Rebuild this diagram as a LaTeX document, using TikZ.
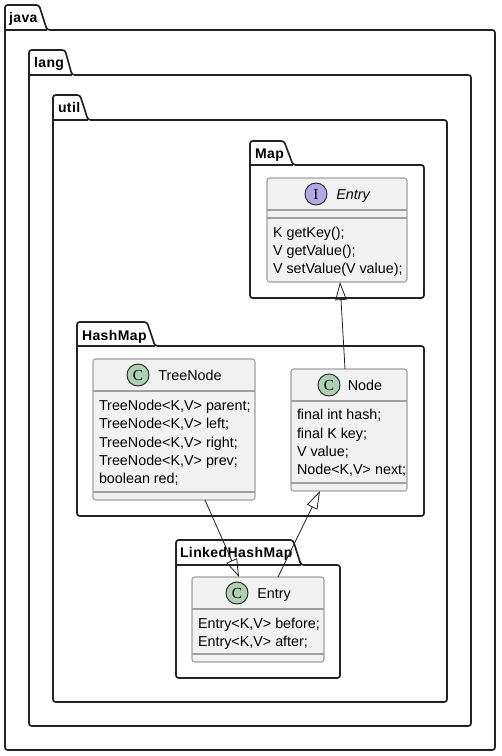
\documentclass[tikz,border=0pt]{standalone}
\usepackage{fontspec}
\setmainfont{Liberation Sans}
\newfontfamily\glyphfont{Liberation Serif}
\usetikzlibrary{arrows.meta}
\definecolor{pkgline}{HTML}{222222}
\definecolor{boxline}{HTML}{A0A0A0}
\definecolor{boxfill}{HTML}{F1F1F1}
\definecolor{cgreen}{HTML}{ADD1B2}
\definecolor{ipurple}{HTML}{B4A7E5}
\tikzset{
  x=0.75pt,y=-0.75pt,
  pkgpath/.style={draw=pkgline,line width=1.25pt,rounded corners=2pt,fill=none},
  pkglabel/.style={anchor=base west,inner sep=0pt,outer sep=0pt,font=\bfseries\fontsize{10.5pt}{12pt}\selectfont\addfontfeatures{LetterSpace=3}},
  classbox/.style={draw=boxline,fill=boxfill,line width=0.8pt,rounded corners=2pt,inner sep=0pt,outer sep=0pt},
  sepline/.style={draw=boxline,line width=0.8pt},
  member/.style={anchor=base west,inner sep=0pt,outer sep=0pt,font=\fontsize{10.75pt}{12pt}\selectfont,text=black},
  classtitle/.style={anchor=base,inner sep=0pt,outer sep=0pt,font=\fontsize{10.75pt}{12pt}\selectfont,text=black},
  badge/.style={circle,draw=pkgline,line width=0.7pt,minimum size=16.5pt,inner sep=0pt,font=\glyphfont\fontsize{11.5pt}{12pt}\selectfont},
  inherit/.style={draw=pkgline,line width=0.6pt,-{Triangle[open,length=13.5pt,width=8.6pt,line width=0.6pt]}},
}
\newcommand{\pkgshape}[8]{% left,tabtop,right,bottom,line,tabtopright,tabbottomright
  \draw[pkgpath] (#1,#5) -- (#1,#2) -- (#6,#2) -- (#7,#5) -- (#3,#5) -- (#3,#4) -- (#1,#4) -- cycle;
  \draw[pkgline,line width=0.9pt] (#1,#5) -- (#7,#5);
}
\begin{document}
\begin{tikzpicture}
\useasboundingbox (0,0) rectangle (501,756);
\fill[white] (0,0) rectangle (501,756);
% packages
\pkgshape{5}{5}{495}{750}{30}{39}{47}{}
\node[pkglabel] (pjava) at (9,23) {java};
\pkgshape{29}{50}{471}{726}{75}{65}{72}{}
\node[pkglabel] (plang) at (34,68) {lang};
\pkgshape{53}{95}{447}{702}{120}{80}{88}{}
\node[pkglabel] (putil) at (58,113) {util};
\pkgshape{250}{141}{424}{298}{165}{284}{293}{}
\node[pkglabel] (pmap) at (255,158) {Map};
\pkgshape{77}{322}{424}{516}{346}{147}{155}{}
\node[pkglabel] (phash) at (82,340) {HashMap};
\pkgshape{176}{540}{340}{678}{565}{293}{301}{}
\node[pkglabel] (plinked) at (180,557) {LinkedHashMap};
% Map.Entry
\node[classbox,minimum width=105pt,minimum height=78pt] (mapentry) at (337,230) {};
\draw[sepline] (mapentry.west |- 0,210) -- (mapentry.east |- 0,210);
\draw[sepline] (mapentry.west |- 0,218) -- (mapentry.east |- 0,218);
\node[badge,fill=ipurple] (mapentrybadge) at (316,194) {I};
\node[classtitle,font=\itshape\fontsize{10.75pt}{12pt}\selectfont] (mapentrytitle) at (353,199) {Entry};
\node[member] (m1) at (273,237) {K getKey();};
\node[member] (m2) at (273,255) {V getValue();};
\node[member] (m3) at (273,273) {V setValue(V value);};
% TreeNode
\node[classbox,minimum width=121.5pt,minimum height=105.75pt] (treenode) at (174,429.5) {};
\draw[sepline] (treenode.west |- 0,391) -- (treenode.east |- 0,391);
\draw[sepline] (treenode.west |- 0,492) -- (treenode.east |- 0,492);
\node[badge,fill=cgreen] (treebadge) at (138,375) {C};
\node[classtitle] (treetitle) at (190,380) {TreeNode};
\node[member] (t1) at (99,410) {TreeNode<K,V> parent;};
\node[member] (t2) at (99,428) {TreeNode<K,V> left;};
\node[member] (t3) at (99,447) {TreeNode<K,V> right;};
\node[member] (t4) at (99,465) {TreeNode<K,V> prev;};
\node[member] (t5) at (99,483) {boolean red;};
% Node
\node[classbox,minimum width=87pt,minimum height=91.5pt] (hnode) at (349,430) {};
\draw[sepline] (hnode.west |- 0,401) -- (hnode.east |- 0,401);
\draw[sepline] (hnode.west |- 0,483) -- (hnode.east |- 0,483);
\node[badge,fill=cgreen] (nodebadge) at (329,385) {C};
\node[classtitle] (nodetitle) at (365,390) {Node};
\node[member] (n1) at (297,419) {final int hash;};
\node[member] (n2) at (297,438) {final K key;};
\node[member] (n3) at (297,456) {V value;};
\node[member] (n4) at (297,474) {Node<K,V> next;};
% LinkedHashMap.Entry
\node[classbox,minimum width=99pt,minimum height=63.75pt] (lentry) at (258,619.5) {};
\draw[sepline] (lentry.west |- 0,609) -- (lentry.east |- 0,609);
\draw[sepline] (lentry.west |- 0,654) -- (lentry.east |- 0,654);
\node[badge,fill=cgreen] (lentrybadge) at (237,593) {C};
\node[classtitle] (lentrytitle) at (274,598) {Entry};
\node[member] (l1) at (198,628) {Entry<K,V> before;};
\node[member] (l2) at (198,646) {Entry<K,V> after;};
% connectors
\draw[inherit] ([shift={(-4,0)}]hnode.north) -- ([shift={(3,0)}]mapentry.south);
\draw[inherit] ([shift={(31,0)}]treenode.south) -- ([shift={(-19,0)}]lentry.north);
\draw[inherit] ([shift={(20,0)}]lentry.north) -- ([shift={(-29,0)}]hnode.south);
\end{tikzpicture}
\end{document}
